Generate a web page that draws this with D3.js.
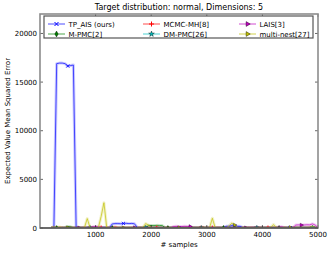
<!DOCTYPE html>
<html>
<head>
<meta charset="utf-8">
<script src="https://cdn.jsdelivr.net/npm/d3@7"></script>
<style>
  body { margin: 0; background: #fff; }
  text { font-family: "DejaVu Sans", sans-serif; }
</style>
</head>
<body>
<div id="chart"></div>
<script>
// sample grid (# samples), one value every 50 samples from 200 to 5000
var samples = d3.range(200, 5001, 50);

var tpAis = [
  30, 30, 16900, 16950, 16950, 16900, 16650, 16700, 16750, 40,
  30, 25, 30, 20, 30, 25, 20, 30, 25, 30,
  30, 40, 420, 450, 450, 440, 470, 480, 450, 470,
  430, 40, 30, 25, 30, 30, 25, 20, 30, 25,
  20, 25, 30, 20, 25, 30, 20, 25, 30, 20,
  25, 30, 20, 25, 30, 20, 25, 30, 20, 25,
  30, 25, 30, 170, 180, 250, 200, 180, 170, 30,
  25, 20, 30, 40, 80, 40, 25, 20, 30, 25,
  20, 25, 30, 20, 25, 30, 20, 25, 30, 20,
  25, 30, 20, 25, 30, 25, 20
];
var mPmc = [
  20, 30, 25, 30, 40, 60, 150, 120, 40, 30,
  25, 30, 20, 25, 30, 20, 25, 30, 20, 25,
  30, 20, 25, 30, 20, 25, 30, 20, 25, 30,
  20, 25, 30, 20, 25, 250, 260, 250, 270, 260,
  250, 30, 20, 25, 30, 20, 25, 30, 20, 25,
  30, 20, 25, 30, 20, 25, 30, 20, 25, 30,
  20, 25, 30, 20, 25, 30, 20, 25, 30, 20,
  25, 30, 20, 25, 30, 20, 25, 30, 20, 25,
  30, 20, 25, 30, 20, 25, 30, 20, 25, 30,
  20, 25, 30, 20, 25, 30, 20
];
var mcmcMh = [
  60, 50, 40, 50, 60, 40, 50, 60, 40, 50,
  40, 50, 60, 40, 50, 60, 40, 50, 60, 40,
  50, 60, 40, 100, 50, 40, 60, 50, 40, 60,
  40, 50, 60, 40, 50, 60, 40, 50, 60, 40,
  50, 40, 60, 50, 40, 60, 50, 40, 60, 50,
  40, 60, 50, 40, 100, 50, 40, 60, 50, 40,
  60, 50, 40, 60, 50, 40, 60, 50, 40, 60,
  50, 40, 60, 50, 40, 60, 50, 40, 60, 50,
  40, 60, 50, 40, 60, 50, 40, 60, 50, 40,
  60, 50, 40, 60, 50, 40, 60
];
var dmPmc = [
  30, 40, 35, 30, 40, 35, 30, 40, 35, 30,
  40, 35, 30, 40, 35, 30, 40, 35, 30, 40,
  35, 30, 40, 35, 30, 40, 35, 30, 40, 35,
  30, 40, 35, 30, 40, 35, 30, 40, 35, 30,
  40, 35, 30, 40, 35, 30, 40, 35, 30, 40,
  35, 30, 40, 35, 30, 40, 35, 30, 40, 35,
  30, 40, 35, 30, 40, 35, 30, 40, 35, 30,
  40, 35, 30, 40, 35, 30, 40, 35, 30, 40,
  35, 30, 40, 35, 30, 40, 35, 30, 40, 35,
  30, 40, 35, 30, 40, 35, 30
];
var lais = [
  20, 15, 20, 25, 20, 15, 20, 25, 20, 15,
  20, 25, 20, 30, 40, 120, 150, 100, 30, 20,
  15, 20, 25, 20, 15, 20, 25, 20, 15, 20,
  25, 20, 15, 20, 25, 20, 15, 20, 25, 20,
  15, 20, 25, 20, 150, 170, 160, 150, 170, 160,
  150, 30, 20, 15, 20, 25, 20, 15, 20, 25,
  20, 15, 20, 25, 20, 15, 20, 25, 20, 15,
  20, 60, 50, 60, 40, 20, 15, 20, 25, 20,
  15, 20, 100, 120, 30, 20, 25, 20, 300, 320,
  300, 310, 330, 320, 420, 300, 40
];
var multiNest = [
  40, 120, 30, 100, 30, 20, 30, 20, 30, 20,
  30, 20, 40, 970, 30, 20, 40, 30, 1200, 2600,
  40, 30, 20, 30, 40, 30, 20, 30, 40, 30,
  20, 30, 40, 30, 450, 300, 60, 40, 30, 20,
  30, 40, 60, 30, 40, 30, 40, 20, 30, 40,
  30, 20, 30, 40, 30, 60, 40, 30, 1000, 40,
  30, 20, 30, 40, 200, 500, 300, 40, 30, 20,
  30, 40, 30, 20, 60, 40, 30, 20, 30, 40,
  350, 40, 30, 20, 40, 30, 60, 30, 40, 30,
  20, 30, 40, 60, 150, 40, 30
];

var xTicks = [1000, 2000, 3000, 4000, 5000];
var yTicks = [0, 5000, 10000, 15000, 20000];

// plot order = legend order (matplotlib fills legend columns first)
var series = [
  {name: "TP_AIS (ours)", values: tpAis, color: "#0000ff", marker: "x"},
  {name: "M-PMC[2]", values: mPmc, color: "#008000", marker: "diamond"},
  {name: "MCMC-MH[8]", values: mcmcMh, color: "#ff0000", marker: "plus"},
  {name: "DM-PMC[26]", values: dmPmc, color: "#00bfbf", marker: "star"},
  {name: "LAIS[3]", values: lais, color: "#bf00bf", marker: "tri"},
  {name: "multi-nest[27]", values: multiNest, color: "#bfbf00", marker: "tri"}
];

var W = 332, H = 253;
var m = {left: 40, right: 14, top: 14, bottom: 25};

var svg = d3.select("#chart").append("svg")
  .attr("width", W)
  .attr("height", H);

var x = d3.scaleLinear().domain([0, 5000]).range([m.left, W - m.right]);
var y = d3.scaleLinear().domain([0, 22000]).range([H - m.bottom, m.top]);

svg.append("defs").append("clipPath").attr("id", "clip")
  .append("rect")
  .attr("x", m.left).attr("y", m.top)
  .attr("width", W - m.left - m.right)
  .attr("height", H - m.top - m.bottom);

var plot = svg.append("g").attr("clip-path", "url(#clip)");

var line = d3.line()
  .x((d, i) => x(samples[i]))
  .y(d => y(d));

// light band around each curve
series.forEach(function (s) {
  plot.append("path")
    .datum(s.values)
    .attr("d", line)
    .attr("fill", "none")
    .attr("stroke", s.color)
    .attr("stroke-opacity", 0.2)
    .attr("stroke-width", 3)
    .attr("stroke-linejoin", "round");
});

series.forEach(function (s, k) {
  plot.append("path")
    .datum(s.values)
    .attr("d", line)
    .attr("fill", "none")
    .attr("stroke", s.color)
    .attr("stroke-opacity", 0.75)
    .attr("stroke-width", 0.9);

  // markers only on every 20th point
  var pts = s.values.map((v, i) => [samples[i], v]).filter((d, i) => (i + k * 4 + 14) % 20 == 0);
  drawMarkers(plot, pts.map(d => [x(d[0]), y(d[1])]), s, 0.8);
});

function drawMarkers(g, pts, s, scale) {
  pts.forEach(function (p) {
    var t = "translate(" + p[0] + "," + p[1] + ") scale(" + scale + ")";
    if (s.marker == "x") {
      g.append("path").attr("d", "M-2,-2L2,2M-2,2L2,-2")
        .attr("transform", t).attr("stroke", s.color).attr("stroke-width", 1).attr("fill", "none");
    } else if (s.marker == "plus") {
      g.append("path").attr("d", "M-2.5,0L2.5,0M0,-2.5L0,2.5")
        .attr("transform", t).attr("stroke", s.color).attr("stroke-width", 1).attr("fill", "none");
    } else {
      var type = s.marker == "diamond" ? d3.symbolDiamond : s.marker == "star" ? d3.symbolStar : d3.symbolTriangle;
      g.append("path").attr("d", d3.symbol(type, 10)())
        .attr("transform", t + (s.marker == "tri" ? " rotate(90)" : ""))
        .attr("fill", s.color).attr("stroke", "#000").attr("stroke-width", 0.4);
    }
  });
}

// frame and ticks
var x0 = m.left, x1 = W - m.right, y0 = H - m.bottom, y1 = m.top;
var axisCol = "#8c8c8c";

xTicks.forEach(function (t) {
  svg.append("line").attr("x1", x(t)).attr("x2", x(t)).attr("y1", y0).attr("y2", y0 - 3)
    .attr("stroke", "#000").attr("stroke-width", 0.6);
  svg.append("line").attr("x1", x(t)).attr("x2", x(t)).attr("y1", y1).attr("y2", y1 + 3)
    .attr("stroke", "#000").attr("stroke-width", 0.6);
  svg.append("text").attr("x", x(t)).attr("y", y0 + 9)
    .attr("text-anchor", "middle").attr("font-size", 7).text(t);
});
yTicks.forEach(function (t) {
  svg.append("line").attr("x1", x0).attr("x2", x0 + 3).attr("y1", y(t)).attr("y2", y(t))
    .attr("stroke", "#000").attr("stroke-width", 0.6);
  svg.append("line").attr("x1", x1).attr("x2", x1 - 3).attr("y1", y(t)).attr("y2", y(t))
    .attr("stroke", "#000").attr("stroke-width", 0.6);
  svg.append("text").attr("x", x0 - 3).attr("y", y(t) + 2.5)
    .attr("text-anchor", "end").attr("font-size", 7).text(t);
});

svg.append("rect")
  .attr("x", x0).attr("y", y1)
  .attr("width", x1 - x0).attr("height", y0 - y1)
  .attr("fill", "none").attr("stroke", axisCol).attr("stroke-width", 1.6);
svg.append("line").attr("x1", x0).attr("x2", x1).attr("y1", y0).attr("y2", y0)
  .attr("stroke", "#333").attr("stroke-width", 1.2);

// legend
var lg = svg.append("g");
lg.append("rect")
  .attr("x", 44).attr("y", 16).attr("width", 269).attr("height", 22)
  .attr("fill", "#fff").attr("stroke", "#555").attr("stroke-width", 1.2);

var colX = [48, 143, 239];
var rowY = [24, 34];
series.forEach(function (s, i) {
  var cx = colX[Math.floor(i / 2)], cy = rowY[i % 2];
  lg.append("line").attr("x1", cx).attr("x2", cx + 17).attr("y1", cy).attr("y2", cy)
    .attr("stroke", s.color).attr("stroke-opacity", 0.7).attr("stroke-width", 1);
  drawMarkers(lg, [[cx + 8.5, cy]], s, 1);
  lg.append("text").attr("x", cx + 20.5).attr("y", cy + 2.5)
    .attr("font-size", 7).text(s.name);
});

// titles
svg.append("text").attr("x", (x0 + x1) / 2).attr("y", 10)
  .attr("text-anchor", "middle").attr("font-size", 8)
  .text("Target distribution: normal, Dimensions: 5");
svg.append("text").attr("x", (x0 + x1) / 2).attr("y", 247)
  .attr("text-anchor", "middle").attr("font-size", 7)
  .text("# samples");
svg.append("text")
  .attr("transform", "translate(10," + ((y0 + y1) / 2) + ") rotate(-90)")
  .attr("text-anchor", "middle").attr("font-size", 7)
  .text("Expected Value Mean Squared Error");
</script>
</body>
</html>
